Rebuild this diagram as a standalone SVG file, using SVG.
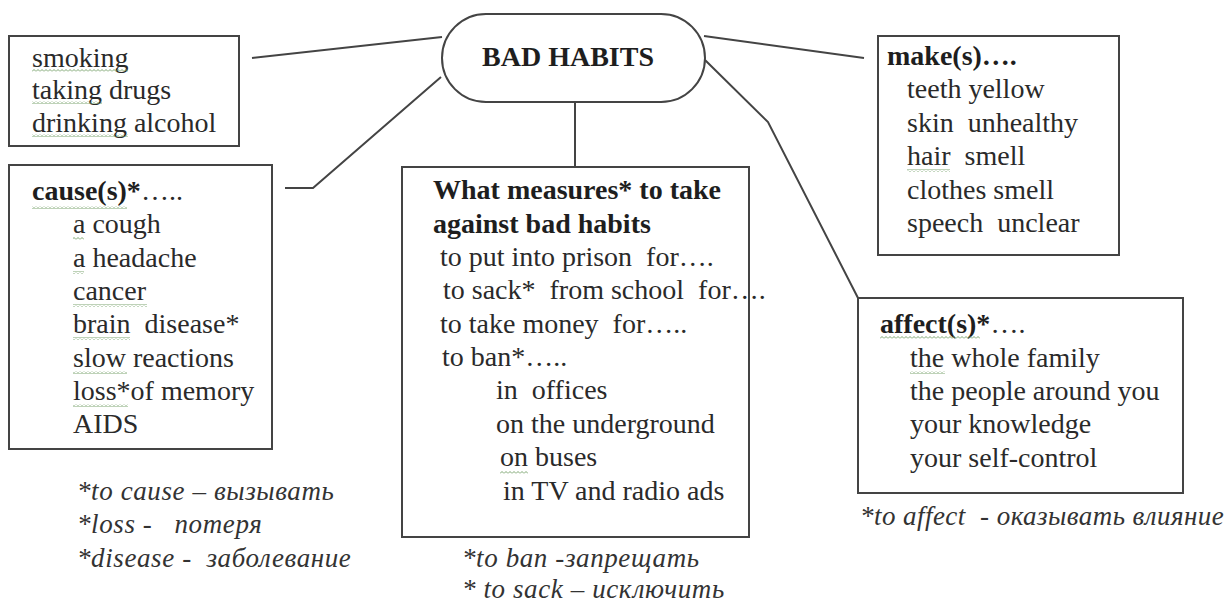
<svg xmlns="http://www.w3.org/2000/svg" width="1227" height="602" viewBox="0 0 1227 602">
<style>
  .box{fill:#fff;stroke:#444;stroke-width:2}
  .ln{fill:none;stroke:#444;stroke-width:2}
  .t{font-family:"Liberation Serif","Times New Roman",serif;font-size:28px;fill:#2a2a2a;white-space:pre}
  .b{font-weight:bold;fill:#1e1e1e}
  .fn{font-family:"Liberation Serif","Times New Roman",serif;font-style:italic;font-size:27px;letter-spacing:0.6px;fill:#333;white-space:pre}
  .sq{fill:url(#sq)}
</style>
<defs>
  <pattern id="sq" patternUnits="userSpaceOnUse" width="4" height="3">
    <path d="M0,2.5 L2,0.5 L4,2.5" fill="none" stroke="#6f9c62" stroke-width="0.9"/>
  </pattern>
</defs>
<rect width="1227" height="602" fill="#fff"/>

<g id="connectors">
  <path class="ln" d="M252,58 L442,37"/>
  <path class="ln" d="M285,188 L313,188 L441,77"/>
  <path class="ln" d="M575,102 L575,167"/>
  <path class="ln" d="M704,36 L864,58"/>
  <path class="ln" d="M705,60 L768,122 L858,298"/>
</g>

<g id="bad-habits">
  <rect class="box" x="442" y="14" width="263" height="88" rx="44" ry="44"/>
  <text class="t b" x="568" y="66" text-anchor="middle" font-size="30">BAD HABITS</text>
</g>

<g id="habits-list">
  <rect class="box" x="9" y="36" width="230" height="110"/>
  <text class="t" x="32" y="67">smoking</text>
  <text class="t" x="32" y="99">taking drugs</text>
  <text class="t" x="32" y="132">drinking alcohol</text>
  <rect class="sq" x="32" y="69" width="96" height="3"/>
  <rect class="sq" x="32" y="101" width="70" height="3"/>
  <rect class="sq" x="32" y="134" width="96" height="3"/>
</g>

<g id="causes">
  <rect class="box" x="9" y="165" width="263" height="284"/>
  <text class="t" x="32" y="200"><tspan class="b">cause(s)*</tspan>…..</text>
  <text class="t" x="73" y="233">a cough</text>
  <text class="t" x="73" y="267">a headache</text>
  <text class="t" x="73" y="300">cancer</text>
  <text class="t" x="73" y="333">brain  disease*</text>
  <text class="t" x="73" y="367">slow reactions</text>
  <text class="t" x="73" y="400">loss*of memory</text>
  <text class="t" x="73" y="433">AIDS</text>
  <rect class="sq" x="32" y="206" width="95" height="3"/>
  <rect class="sq" x="73" y="237" width="11" height="3"/>
  <rect class="sq" x="73" y="271" width="11" height="3"/>
  <rect class="sq" x="73" y="304" width="74" height="3"/>
  <rect class="sq" x="73" y="337" width="57" height="3"/>
  <rect class="sq" x="73" y="371" width="54" height="3"/>
  <rect class="sq" x="73" y="404" width="55" height="3"/>
</g>

<g id="causes-notes">
  <text class="fn" x="77" y="500">*to cause – вызывать</text>
  <text class="fn" x="77" y="533">*loss -   потеря</text>
  <text class="fn" x="77" y="567">*disease -  заболевание</text>
</g>

<g id="measures">
  <rect class="box" x="402" y="167" width="347" height="370"/>
  <text class="t b" x="433" y="199">What measures* to take</text>
  <text class="t b" x="433" y="233">against bad habits</text>
  <text class="t" x="440" y="266">to put into prison  for….</text>
  <text class="t" x="443" y="299">to sack*  from school  for….</text>
  <text class="t" x="440" y="333">to take money  for…..</text>
  <text class="t" x="442" y="366">to ban*…..</text>
  <text class="t" x="496" y="399">in  offices</text>
  <text class="t" x="496" y="433">on the underground</text>
  <text class="t" x="500" y="466">on buses</text>
  <text class="t" x="503" y="500">in TV and radio ads</text>
  <rect class="sq" x="500" y="471" width="28" height="3"/>
</g>

<g id="measures-notes">
  <text class="fn" x="462" y="567">*to ban -запрещать</text>
  <text class="fn" x="462" y="598">* to sack – исключить</text>
</g>

<g id="makes">
  <rect class="box" x="878" y="36" width="241" height="219"/>
  <text class="t b" x="887" y="65">make(s)….</text>
  <text class="t" x="907" y="98">teeth yellow</text>
  <text class="t" x="907" y="132">skin  unhealthy</text>
  <text class="t" x="907" y="165">hair  smell</text>
  <text class="t" x="907" y="199">clothes smell</text>
  <text class="t" x="907" y="232">speech  unclear</text>
  <rect class="sq" x="907" y="169" width="43" height="3"/>
</g>

<g id="affects">
  <rect class="box" x="858" y="298" width="325" height="195"/>
  <text class="t" x="880" y="333"><tspan class="b">affect(s)*</tspan>….</text>
  <text class="t" x="910" y="367">the whole family</text>
  <text class="t" x="910" y="400">the people around you</text>
  <text class="t" x="910" y="433">your knowledge</text>
  <text class="t" x="910" y="467">your self-control</text>
  <rect class="sq" x="880" y="336" width="100" height="3"/>
  <rect class="sq" x="910" y="371" width="35" height="3"/>
</g>

<g id="affects-notes">
  <text class="fn" x="860" y="525" style="letter-spacing:0.45px">*to affect  - оказывать влияние</text>
</g>
</svg>
